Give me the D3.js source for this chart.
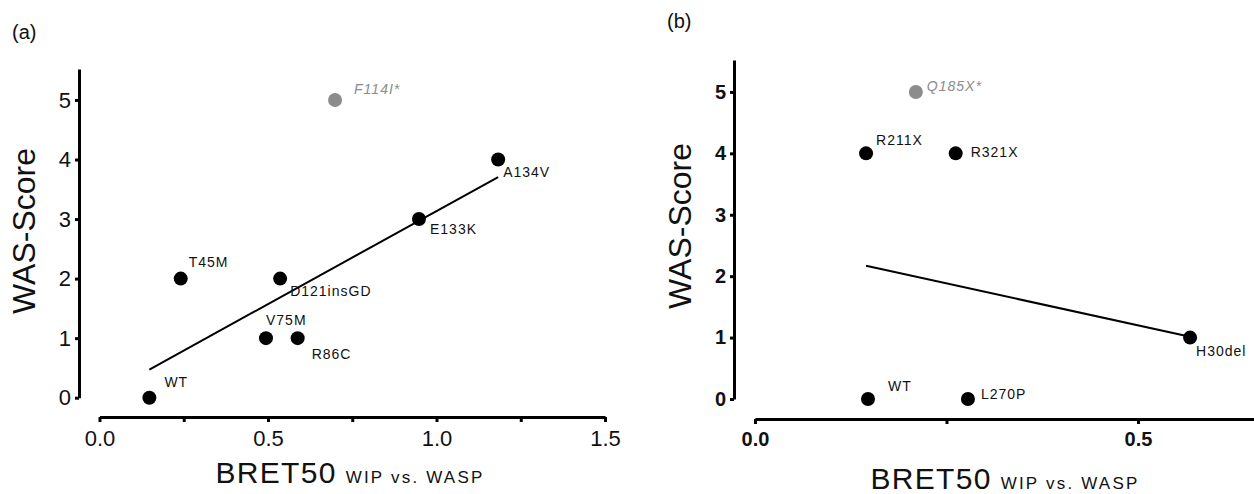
<!DOCTYPE html>
<html>
<head>
<meta charset="utf-8">
<script src="https://cdnjs.cloudflare.com/ajax/libs/d3/7.8.5/d3.min.js"></script>
<style>
    body { margin: 0; background: #fff; }
    svg { display: block; font-family: "Liberation Sans", Arial, sans-serif; }
</style>
</head>
<body>
<svg id="chart" width="1254" height="494"></svg>
<script>
var WIDTH = 1254;
var HEIGHT = 494;

// panel (a)
var namesA = ['WT', 'T45M', 'V75M', 'D121insGD', 'R86C', 'F114I*', 'E133K', 'A134V'];
var bretA = [0.148, 0.241, 0.494, 0.536, 0.588, 0.699, 0.948, 1.183];
var scoreA = [0, 2, 1, 2, 1, 5, 3, 4];

// panel (b)
var namesB = ['WT', 'R211X', 'Q185X*', 'R321X', 'L270P', 'H30del'];
var bretB = [0.1475, 0.145, 0.210, 0.262, 0.278, 0.568];
var scoreB = [0, 4, 5, 4, 0, 1];

// grey points, left out of the fit
var excluded = ['F114I*', 'Q185X*'];

var yTicks = [0, 1, 2, 3, 4, 5];
var xTicksA = [0, 0.25, 0.5, 0.75, 1, 1.25, 1.5];
var xTicksB = [0, 0.25, 0.5, 0.75];

// label placement relative to the dot: [dx, dy of baseline]
var labelOffset = {
    a: {
        'WT': [15, -11], 'T45M': [8, -12], 'V75M': [0, -13], 'D121insGD': [10, 17],
        'R86C': [14, 21], 'F114I*': [19, -6], 'E133K': [11, 15], 'A134V': [5, 17]
    },
    b: {
        'WT': [20, -8], 'R211X': [10, -8], 'Q185X*': [11, -1], 'R321X': [15, 4],
        'L270P': [13, 0], 'H30del': [6, 18]
    }
};

var panels = [
    {
        key: 'a', letter: '(a)', letterX: 12, letterY: 39,
        names: namesA, bret: bretA, score: scoreA, xTicks: xTicksA,
        xDomain: [0, 1.5], xRange: [99.5, 605], xAxisY: 417,
        yRange: [397.7, 69], yAxisX: 79,
        bold: false, tickFont: 22,
        yTitleX: 35, yTitleY: 231, xTitleX: 350, xTitleY: 483
    },
    {
        key: 'b', letter: '(b)', letterX: 667, letterY: 28,
        names: namesB, bret: bretB, score: scoreB, xTicks: xTicksB,
        xDomain: [0, 0.75], xRange: [755, 1329.5], xAxisY: 419,
        yRange: [399, 60], yAxisX: 734,
        bold: true, tickFont: 20,
        yTitleX: 691, yTitleY: 226, xTitleX: 1005, xTitleY: 489
    }
];

var svg = d3.select('#chart');

var fitLine = function(xs, ys){
    var n = xs.length;
    var mx = d3.mean(xs), my = d3.mean(ys);
    var sxy = 0, sxx = 0;
    for (var i = 0; i < n; i++) {
        sxy += (xs[i] - mx) * (ys[i] - my);
        sxx += (xs[i] - mx) * (xs[i] - mx);
    }
    var slope = sxy / sxx;
    var x0 = d3.min(xs), x1 = d3.max(xs);
    return [[x0, my + slope * (x0 - mx)], [x1, my + slope * (x1 - mx)]];
};

var drawPanel = function(p){
    var g = svg.append('g').attr('id', 'panel-' + p.key);

    var xScale = d3.scaleLinear().domain(p.xDomain).range(p.xRange);
    var yScale = d3.scaleLinear().domain([0, 5.52]).range(p.yRange);

    var data = p.names.map(function(name, i){
        return { name: name, x: p.bret[i], y: p.score[i], grey: excluded.indexOf(name) >= 0 };
    });

    // axes
    var bottomAxis = d3.axisBottom(xScale)
        .tickValues(p.xTicks)
        .tickSizeInner(5)
        .tickSizeOuter(0)
        .tickPadding(8)
        .tickFormat(function(d){ return (Math.round(d * 100) % 50 === 0) ? d3.format('.1f')(d) : ''; });

    var leftAxis = d3.axisLeft(yScale)
        .tickValues(yTicks)
        .tickSizeInner(4)
        .tickSizeOuter(0)
        .tickPadding(4)
        .tickFormat(d3.format('d'));

    var xg = g.append('g')
        .attr('transform', 'translate(0,' + p.xAxisY + ')')
        .call(bottomAxis);
    var yg = g.append('g')
        .attr('transform', 'translate(' + p.yAxisX + ',0)')
        .call(leftAxis);

    [xg, yg].forEach(function(ax){
        ax.select('.domain').attr('stroke', '#000').attr('stroke-width', 3);
        ax.selectAll('.tick line').attr('stroke', '#000').attr('stroke-width', 3);
        ax.selectAll('.tick text')
            .attr('fill', '#111')
            .style('font-family', '"Liberation Sans", Arial, sans-serif')
            .style('font-size', p.tickFont + 'px')
            .style('font-weight', p.bold ? 'bold' : 'normal');
    });

    // regression over the black points
    var fitted = data.filter(function(d){ return !d.grey; });
    var ends = fitLine(fitted.map(function(d){ return d.x; }), fitted.map(function(d){ return d.y; }));
    g.append('line')
        .attr('x1', xScale(ends[0][0]))
        .attr('y1', yScale(ends[0][1]))
        .attr('x2', xScale(ends[1][0]))
        .attr('y2', yScale(ends[1][1]))
        .attr('stroke', '#000')
        .attr('stroke-width', 2);

    g.selectAll('circle')
        .data(data)
        .enter()
        .append('circle')
        .attr('cx', function(d){ return xScale(d.x); })
        .attr('cy', function(d){ return yScale(d.y); })
        .attr('r', 7)
        .attr('fill', function(d){ return d.grey ? '#8c8c8c' : '#000'; });

    g.selectAll('text.pt-label')
        .data(data)
        .enter()
        .append('text')
        .attr('class', 'pt-label')
        .attr('x', function(d){ return xScale(d.x) + labelOffset[p.key][d.name][0]; })
        .attr('y', function(d){ return yScale(d.y) + labelOffset[p.key][d.name][1]; })
        .attr('fill', function(d){ return d.grey ? '#8c8c8c' : '#111'; })
        .style('font-size', '14px')
        .style('letter-spacing', '1px')
        .style('font-style', function(d){ return d.grey ? 'italic' : 'normal'; })
        .text(function(d){ return d.name; });

    // titles
    g.append('text')
        .attr('transform', 'translate(' + p.yTitleX + ',' + p.yTitleY + ') rotate(-90)')
        .attr('text-anchor', 'middle')
        .attr('fill', '#111')
        .style('font-size', '32px')
        .text('WAS-Score');

    var xt = g.append('text')
        .attr('x', p.xTitleX)
        .attr('y', p.xTitleY)
        .attr('text-anchor', 'middle')
        .attr('fill', '#111');
    xt.append('tspan')
        .style('font-size', '30px')
        .style('letter-spacing', '1.3px')
        .text('BRET50');
    xt.append('tspan')
        .attr('dx', 9)
        .style('font-size', '17px')
        .style('letter-spacing', '2.2px')
        .text('WIP vs. WASP');

    g.append('text')
        .attr('x', p.letterX)
        .attr('y', p.letterY)
        .attr('fill', '#111')
        .style('font-size', '20px')
        .text(p.letter);
};

panels.forEach(drawPanel);
</script>
</body>
</html>
